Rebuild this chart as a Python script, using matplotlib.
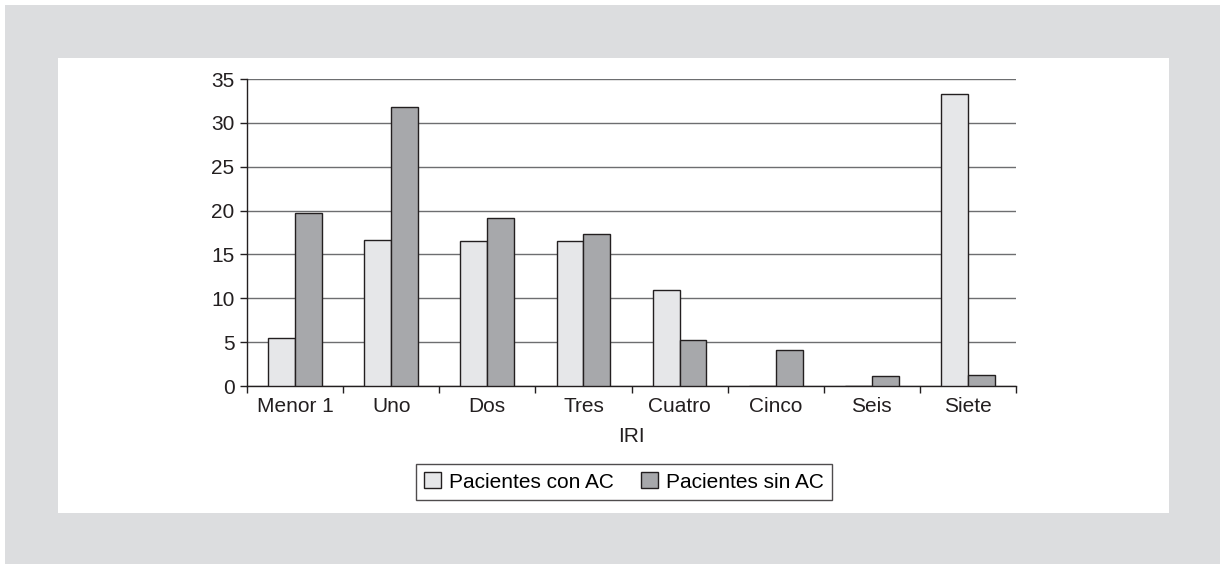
import numpy as np
import matplotlib
matplotlib.use("Agg")
from matplotlib import pyplot as plt
from matplotlib.patches import Rectangle

plt.rcParams['font.family'] = ['Liberation Sans', 'DejaVu Sans']

categorias = ["Menor 1", "Uno", "Dos", "Tres", "Cuatro", "Cinco", "Seis", "Siete"]
con_ac = [5.5, 16.6, 16.5, 16.5, 11.0, 0, 0, 33.3]
sin_ac = [19.7, 31.8, 19.1, 17.3, 5.3, 4.1, 1.1, 1.2]
series = ["Pacientes con AC", "Pacientes sin AC"]

fig = plt.figure(figsize=(12.2, 5.64), dpi=100)
# fondo gris y panel blanco
fig.patches.append(Rectangle((5/1220, 0), 1 - 5/1220, 1 - 5/564, transform=fig.transFigure,
                             facecolor='#dcdddf', edgecolor='none', zorder=-2))
fig.patches.append(Rectangle((58/1220, 1 - 513/564), (1169-58)/1220, (513-58)/564,
                             transform=fig.transFigure, facecolor='white', edgecolor='none', zorder=-1))

ax = fig.add_axes([247/1220, 1 - 386/564, (1016-247)/1220, (386-79)/564])
ax.patch.set_alpha(0)

x = np.arange(len(categorias))
w = 0.28
ax.bar(x - w/2, con_ac, w, color='#e6e7e9', edgecolor='#231f20', linewidth=1.0, label=series[0], zorder=3)
ax.bar(x + w/2, sin_ac, w, color='#a7a8ab', edgecolor='#231f20', linewidth=1.0, label=series[1], zorder=3)

ax.set_ylim(0, 35)
ax.set_yticks(range(0, 36, 5))
ax.set_xlim(-0.5, len(categorias) - 0.5)
ax.yaxis.grid(True, color='#6d6e70', linewidth=1.0, zorder=0)
for s in ['top', 'right']:
    ax.spines[s].set_visible(False)
for s in ['left', 'bottom']:
    ax.spines[s].set_color('#231f20')
    ax.spines[s].set_linewidth(1.0)

ax.set_xticks(x)
ax.set_xticklabels(categorias)
ax.set_xticks(np.arange(-0.5, len(categorias)), minor=True)
ax.tick_params(axis='x', which='major', length=0, labelsize=15, pad=8, colors='#231f20')
ax.tick_params(axis='x', which='minor', length=5, width=1, color='#231f20')
ax.tick_params(axis='y', length=5, width=1, labelsize=15, pad=4, colors='#231f20')
ax.set_xlabel("IRI", fontsize=15, labelpad=8, color='#231f20')

leg = ax.legend(loc='center', bbox_to_anchor=(0.49, 1 - (482-79)/(386-79)), ncol=2,
                fontsize=15, frameon=True, fancybox=False, edgecolor='#231f20',
                handlelength=0.8, handleheight=0.8, handletextpad=0.4, columnspacing=1.3,
                borderpad=0.4)
leg.get_frame().set_linewidth(1.0)

fig.savefig("out.png", dpi=100)
